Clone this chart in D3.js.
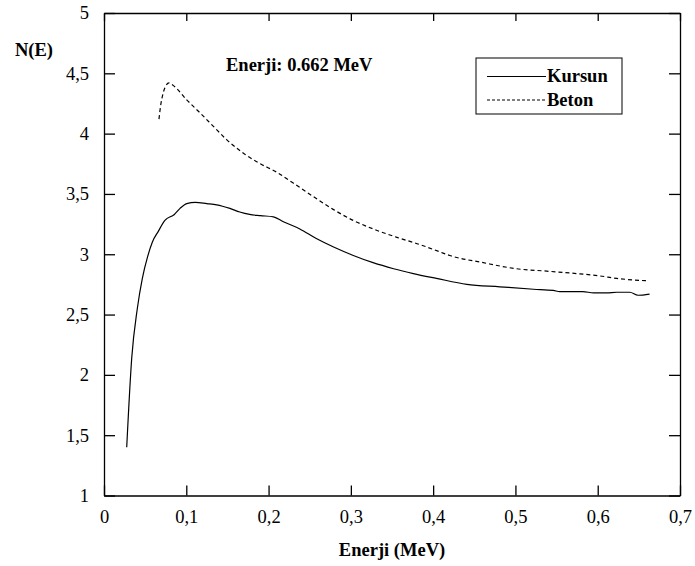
<!DOCTYPE html>
<html>
<head>
<meta charset="utf-8">
<script src="https://cdn.jsdelivr.net/npm/d3@7"></script>
<style>
  body { margin: 0; background: #fff; }
  #chart { width: 695px; height: 566px; }
  .axis path, .axis line { stroke: #000; stroke-width: 1.3; }
</style>
</head>
<body>
<div id="chart"></div>
<script>
// datos
const kursunE = [0.0276, 0.0337, 0.0405, 0.0466, 0.053, 0.0587, 0.066, 0.074, 0.0855, 0.0924, 0.1005, 0.111, 0.125, 0.137, 0.153, 0.165, 0.177, 0.19, 0.206, 0.218, 0.238, 0.258, 0.279, 0.303, 0.327, 0.352, 0.376, 0.404, 0.441, 0.481, 0.522, 0.546, 0.554, 0.582, 0.595, 0.611, 0.623, 0.639, 0.649, 0.663];
const kursunN = [1.40, 2.14, 2.55, 2.80, 2.98, 3.10, 3.19, 3.28, 3.33, 3.38, 3.42, 3.43, 3.42, 3.41, 3.38, 3.35, 3.33, 3.32, 3.31, 3.27, 3.21, 3.13, 3.06, 2.99, 2.93, 2.88, 2.84, 2.80, 2.75, 2.73, 2.71, 2.70, 2.69, 2.69, 2.68, 2.68, 2.685, 2.685, 2.66, 2.67];

const betonE = [0.0668, 0.069, 0.0713, 0.074, 0.079, 0.084, 0.1005, 0.117, 0.133, 0.149, 0.165, 0.173, 0.19, 0.21, 0.23, 0.254, 0.279, 0.303, 0.327, 0.356, 0.384, 0.408, 0.42, 0.461, 0.501, 0.538, 0.574, 0.603, 0.623, 0.66];
const betonN = [4.12, 4.24, 4.32, 4.38, 4.42, 4.40, 4.28, 4.17, 4.06, 3.95, 3.86, 3.82, 3.75, 3.68, 3.59, 3.48, 3.37, 3.28, 3.21, 3.14, 3.08, 3.02, 2.99, 2.93, 2.88, 2.86, 2.84, 2.82, 2.80, 2.78];

const xTicks = [0, 0.1, 0.2, 0.3, 0.4, 0.5, 0.6, 0.7];
const yTicks = [1, 1.5, 2, 2.5, 3, 3.5, 4, 4.5, 5];

const seriesNames = ["Kursun", "Beton"];
const titulo = "Enerji: 0.662 MeV";

const serif = '"Liberation Serif", "Times New Roman", Times, serif';

// margenes
const margins = { top: 13, right: 15, bottom: 70, left: 104 };
const totalWith = 695;
const totalHeigth = 566;
const chartWith = totalWith - margins.left - margins.right;
const chartHeigth = 495.5 - margins.top;

const svg = d3.select("#chart")
  .append("svg")
  .attr("width", totalWith)
  .attr("height", totalHeigth)
  .append("g")
  .attr("transform", `translate(${margins.left}, ${margins.top})`);

const x = d3.scaleLinear().domain([0, 0.7]).range([0, chartWith]);
const y = d3.scaleLinear().domain([1, 5]).range([chartHeigth, 0]);

const fmt = (d) => String(d).replace(".", ",");

// ejes con marcas hacia adentro
svg.append("g")
  .attr("class", "axis")
  .attr("transform", `translate(0, ${chartHeigth})`)
  .call(d3.axisBottom(x).tickValues(xTicks).tickFormat(fmt).tickSizeInner(-10).tickSizeOuter(0).tickPadding(14));

svg.append("g")
  .attr("class", "axis")
  .call(d3.axisTop(x).tickValues(xTicks).tickFormat("").tickSizeInner(-8).tickSizeOuter(0));

svg.append("g")
  .attr("class", "axis")
  .call(d3.axisLeft(y).tickValues(yTicks).tickFormat(fmt).tickSizeInner(-11).tickSizeOuter(0).tickPadding(15));

svg.append("g")
  .attr("class", "axis")
  .attr("transform", `translate(${chartWith}, 0)`)
  .call(d3.axisRight(y).tickValues(yTicks).tickFormat("").tickSizeInner(-11).tickSizeOuter(0));

svg.selectAll(".axis").attr("font-family", serif).attr("font-size", 18.5);
svg.selectAll(".axis .domain").attr("fill", "none");

// curvas
const line = d3.line().x((d) => x(d[0])).y((d) => y(d[1])).curve(d3.curveMonotoneX);

svg.append("path")
  .datum(d3.zip(kursunE, kursunN))
  .attr("fill", "none")
  .attr("stroke", "#000")
  .attr("stroke-width", 1.2)
  .attr("d", line);

svg.append("path")
  .datum(d3.zip(betonE, betonN))
  .attr("fill", "none")
  .attr("stroke", "#000")
  .attr("stroke-width", 1.2)
  .attr("stroke-dasharray", "4,3")
  .attr("d", line);

// textos
const addText = (sel) => sel.attr("font-family", serif).attr("font-weight", "bold").attr("font-size", 18.5).attr("fill", "#000");

addText(svg.append("text"))
  .attr("x", 226 - margins.left)
  .attr("y", 71 - margins.top)
  .text(titulo);

addText(svg.append("text"))
  .attr("x", 15 - margins.left)
  .attr("y", 56 - margins.top)
  .text("N(E)");

addText(svg.append("text"))
  .attr("x", 392 - margins.left)
  .attr("y", 556 - margins.top)
  .attr("text-anchor", "middle")
  .text("Enerji (MeV)");

// leyenda
const legend = svg.append("g").attr("transform", `translate(${476 - margins.left}, ${58 - margins.top})`);
legend.append("rect")
  .attr("width", 146)
  .attr("height", 56)
  .attr("fill", "#fff")
  .attr("stroke", "#000")
  .attr("stroke-width", 1);

seriesNames.forEach((name, i) => {
  const yy = 18.5 + i * 23.5;
  legend.append("line")
    .attr("x1", 11).attr("x2", 70)
    .attr("y1", yy).attr("y2", yy)
    .attr("stroke", "#000")
    .attr("stroke-width", 1)
    .attr("stroke-dasharray", i === 1 ? "3,2" : null);
  addText(legend.append("text"))
    .attr("x", 71)
    .attr("y", yy + 5.5)
    .text(name);
});
</script>
</body>
</html>
